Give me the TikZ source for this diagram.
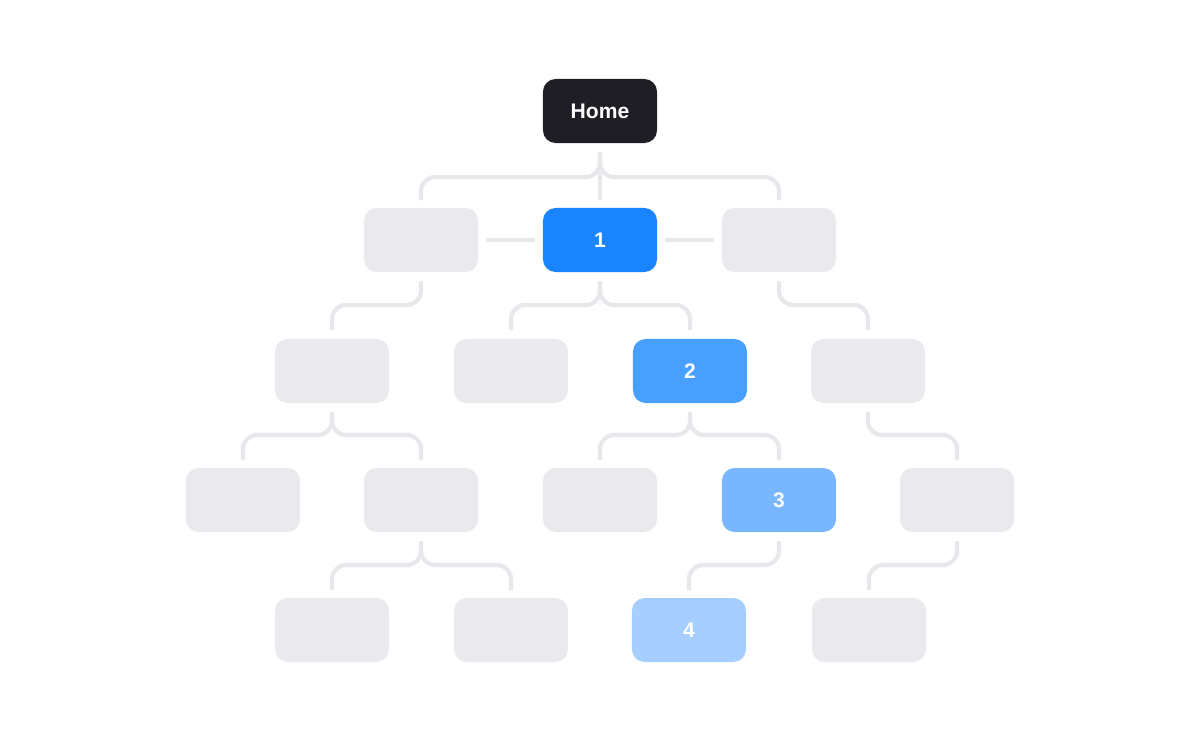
\documentclass[tikz,border=0pt]{standalone}
\usepackage{fontspec}
\setmainfont{Liberation Sans}
\definecolor{dark}{HTML}{1F1E26}
\definecolor{bA}{HTML}{1A85FF}
\definecolor{bB}{HTML}{47A0FF}
\definecolor{bC}{HTML}{78B6FF}
\definecolor{bD}{HTML}{A6CFFF}
\definecolor{gbox}{HTML}{EAE9EE}
\definecolor{gline}{HTML}{E8E8EC}
\begin{document}
\begin{tikzpicture}[x=0.025cm,y=-0.025cm,
 box/.style={rectangle,rounded corners=9pt,minimum width=2.85cm,minimum height=1.6cm,inner sep=0pt,fill=gbox,text=white,font=\bfseries\fontsize{15}{18}\selectfont},
 ln/.style={draw=gline,line width=3pt,rounded corners=10pt}]
\useasboundingbox (0,0) rectangle (1200,750);
\node[box,fill=dark] (home) at (600,111) {Home};
\node[box] (l1) at (421,240) {};
\node[box,fill=bA] (n1) at (600,240) {1};
\node[box] (r1) at (779,240) {};
\node[box] (a2) at (332,371) {};
\node[box] (b2) at (511,371) {};
\node[box,fill=bB] (n2) at (690,371) {2};
\node[box] (d2) at (868,371) {};
\node[box] (a3) at (243,500) {};
\node[box] (b3) at (421,500) {};
\node[box] (c3) at (600,500) {};
\node[box,fill=bC] (n3) at (779,500) {3};
\node[box] (e3) at (957,500) {};
\node[box] (a4) at (332,630) {};
\node[box] (b4) at (511,630) {};
\node[box,fill=bD] (n4) at (689,630) {4};
\node[box] (d4) at (869,630) {};
\coordinate (h0) at (600,152);
\draw[ln] (600,152) -- (600,200);
\draw[ln] (h0) |- (421,177) -- (421,200);
\draw[ln] (h0) |- (779,177) -- (779,200);
\draw[ln] (486,240) -- (535,240);
\draw[ln] (665,240) -- (714,240);
\draw[ln] (421,281) |- (332,305) -- (332,330);
\draw[ln] (600,281) |- (511,305) -- (511,330);
\draw[ln] (600,281) |- (690,305) -- (690,330);
\draw[ln] (779,281) |- (868,305) -- (868,330);
\draw[ln] (332,412) |- (243,435) -- (243,460);
\draw[ln] (332,412) |- (421,435) -- (421,460);
\draw[ln] (690,412) |- (600,435) -- (600,460);
\draw[ln] (690,412) |- (779,435) -- (779,460);
\draw[ln] (868,412) |- (957,435) -- (957,460);
\draw[ln] (421,541) |- (332,565) -- (332,590);
\draw[ln] (421,541) |- (511,565) -- (511,590);
\draw[ln] (779,541) |- (689,565) -- (689,590);
\draw[ln] (957,541) |- (869,565) -- (869,590);
\end{tikzpicture}
\end{document}
